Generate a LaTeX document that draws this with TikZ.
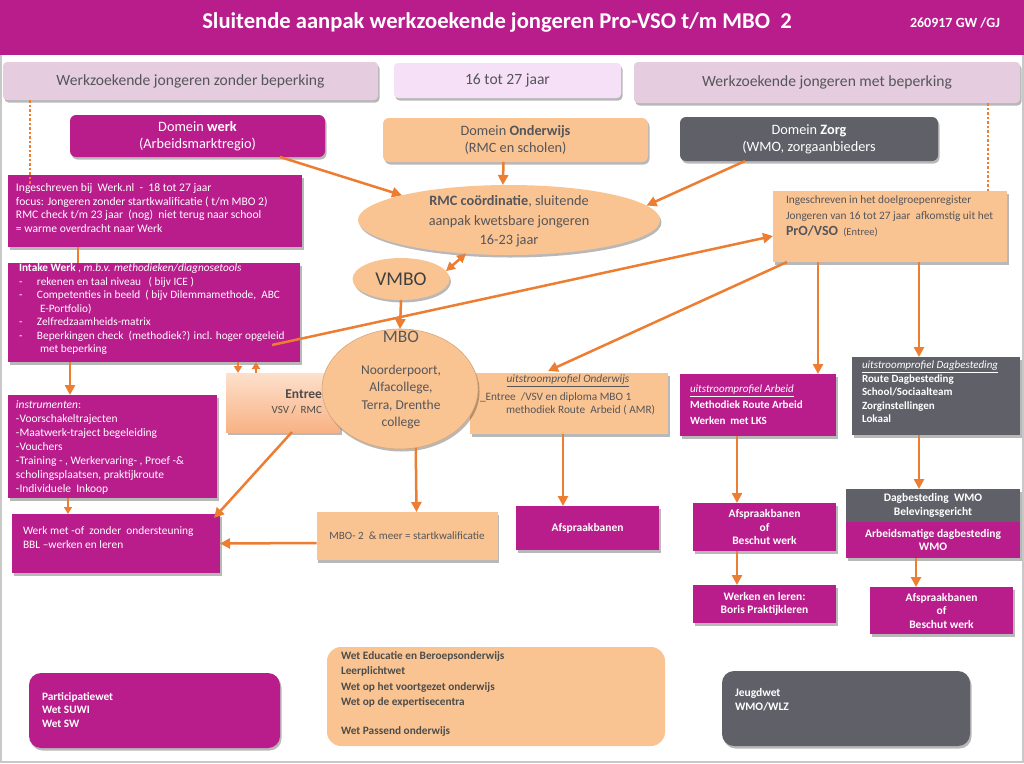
\documentclass[tikz,border=0pt]{standalone}
\usepackage{fontspec}
\setmainfont{Carlito}
\usetikzlibrary{shapes.geometric,arrows.meta,shadows,calc}
\definecolor{mag}{RGB}{185,29,140}
\definecolor{peach}{RGB}{250,196,146}
\definecolor{dgrey}{RGB}{95,96,104}
\definecolor{orng}{RGB}{237,125,49}
\definecolor{banner}{RGB}{229,204,223}
\definecolor{bannerl}{RGB}{246,224,247}
\definecolor{txtg}{RGB}{85,85,90}
\definecolor{framec}{RGB}{200,200,200}
\definecolor{entreetop}{RGB}{253,224,204}
\definecolor{entreebot}{RGB}{248,178,132}
\tikzset{
  shd/.style={drop shadow={shadow xshift=1.5pt,shadow yshift=-2.5pt,opacity=0.28,fill=black}},
  magbox/.style={fill=mag,text=white,shd},
  peachbox/.style={fill=peach,text=txtg,shd},
  greybox/.style={fill=dgrey,text=white,shd},
  bannerbox/.style={fill=banner,text=txtg,rounded corners=4pt,shd,font=\fontsize{15.6}{18}\selectfont},
  arr/.style={draw=orng,line width=2.5pt,-{Triangle[length=10pt,width=10pt]}},
  darr/.style={draw=orng,line width=2.5pt,{Triangle[length=9pt,width=9pt]}-{Triangle[length=9pt,width=9pt]}},
  sarr/.style={draw=orng,line width=2.5pt,-{Triangle[length=7pt,width=8pt]}},
  plainline/.style={draw=orng,line width=2.5pt},
  dotline/.style={draw=orng,line width=2.5pt,dash pattern=on 2.5pt off 2pt},
  ltxt/.style={anchor=north west,align=left},
  fsb/.style={font=\fontsize{11.5}{13.5}\selectfont\bfseries},
  fdom/.style={font=\fontsize{14.3}{17}\selectfont},
}
\begin{document}
\begin{tikzpicture}[x=1pt,y=-1pt,every node/.style={inner sep=0pt,outer sep=0pt}]
\useasboundingbox (0,0) rectangle (1024,763);
\fill[white] (0,0) rectangle (1024,763);
\node[fill=mag,minimum width=1024pt,minimum height=55pt] (titlebar) at (512,27.5) {};
\draw[framec,line width=2pt] (1,55) -- (1,762) -- (1023,762) -- (1023,55);
\node[text=white,font=\fontsize{22.6}{26}\selectfont\bfseries] (title) at (497,22) {Sluitende aanpak werkzoekende jongeren Pro-VSO t/m MBO\ \ 2};
\node[text=white,font=\fontsize{14}{16}\selectfont\bfseries] (date) at (955,23) {260917 GW /GJ};

% banners
\node[bannerbox,minimum width=375pt,minimum height=38pt] (b1) at (190.5,81) {Werkzoekende jongeren zonder beperking};
\node[bannerbox,fill=bannerl,minimum width=227pt,minimum height=35pt] (b2) at (507.5,80.5) {16 tot 27 jaar};
\node[bannerbox,minimum width=386pt,minimum height=41pt] (b3) at (827,82.5) {Werkzoekende jongeren met beperking};

% domains
\node[magbox,fdom,rounded corners=6pt,minimum width=255pt,minimum height=42pt,align=center] (dwerk) at (197.5,136) {Domein \textbf{werk}\\(Arbeidsmarktregio)};
\node[peachbox,fdom,rounded corners=6pt,minimum width=265pt,minimum height=44pt,align=center] (donder) at (515.5,140) {Domein \textbf{Onderwijs}\\(RMC en scholen)};
\node[greybox,fdom,rounded corners=6pt,minimum width=258pt,minimum height=44pt,align=center] (dzorg) at (809,139) {Domein \textbf{Zorg}\\(WMO, zorgaanbieders};

% left column
\node[magbox,minimum width=294pt,minimum height=72pt] (ing1) at (155,211) {};
\node[ltxt,text=white,font=\fontsize{11.6}{13.7}\selectfont] (ing1text) at (16,183.5) {Ingeschreven bij\ \ Werk.nl\ \ -\ \ 18 tot 27 jaar\\focus: Jongeren zonder startkwalificatie ( t/m MBO 2)\\RMC check t/m 23 jaar\ \ (nog)\ \ niet terug naar school\\= warme overdracht naar Werk};

\node[magbox,minimum width=292pt,minimum height=99pt] (intake) at (154,312.5) {};
\node[ltxt,text=white,font=\fontsize{11.3}{13.5}\selectfont] (intaketext) at (19,264) {\textbf{Intake Werk} , \textit{m.b.v. methodieken/diagnosetools}\\
\makebox[18pt][l]{-}rekenen en taal niveau\ \ \ ( bijv ICE )\\
\makebox[18pt][l]{-}Competenties in beeld\ \ ( bijv Dilemmamethode,\ \ ABC\\
\hspace*{21pt}E-Portfolio)\\
\makebox[18pt][l]{-}Zelfredzaamheids-matrix\\
\makebox[18pt][l]{-}Beperkingen check\ \ (methodiek?) incl. hoger opgeleid\\
\hspace*{21pt}met beperking};

\node[magbox,minimum width=209pt,minimum height=103pt] (instr) at (112.5,446.5) {};
\node[ltxt,text=white,font=\fontsize{11.5}{14}\selectfont] (instrtext) at (16,400.5) {\textit{instrumenten}:\\-Voorschakeltrajecten\\-Maatwerk-traject begeleiding\\-Vouchers\\-Training - , Werkervaring- , Proef -\&\\scholingsplaatsen, praktijkroute\\-Individuele\ \ Inkoop};

\node[magbox,minimum width=208pt,minimum height=59pt] (werk) at (116,543.5) {};
\node[ltxt,text=white,font=\fontsize{11.4}{14}\selectfont] (werktext) at (23,526.5) {Werk met -of\ \ zonder\ \ ondersteuning\\BBL –werken en leren};

% RMC, VMBO
\node[ellipse,fill=peach,shd,minimum width=302pt,minimum height=70pt] (rmc) at (509,220) {};
\node[text=txtg,align=center,font=\fontsize{14.3}{19.5}\selectfont] (rmctext) at (509,221.5) {\textbf{RMC coördinatie}, sluitende\\aanpak kwetsbare jongeren\\16-23 jaar};
\node[ellipse,fill=peach,shd,minimum width=97pt,minimum height=42pt,text=black!75,font=\fontsize{19.5}{22}\selectfont] (vmbo) at (401,279) {VMBO};

% right top box
\node[peachbox,minimum width=234pt,minimum height=71pt] (ing2) at (890,226.5) {};
\node[ltxt,text=txtg,font=\fontsize{11.3}{16}\selectfont] (ing2text) at (786,195.5) {Ingeschreven in het doelgroepenregister\\Jongeren van 16 tot 27 jaar\ \ afkomstig uit het\\{\fontsize{14}{16}\selectfont\bfseries PrO/VSO}\ \ {\fontsize{10.5}{16}\selectfont(Entree)}};

% MBO row
\node[shd,top color=entreetop,bottom color=entreebot,minimum width=114pt,minimum height=59pt] (entree) at (283,402.5) {};
\node[anchor=north east,align=right,text=black!70,font=\fontsize{11}{15}\selectfont] (entreetext) at (322,389.5) {{\fontsize{13.5}{15}\selectfont\bfseries Entree}\\VSV /\ \ RMC};
\node[peachbox,minimum width=198pt,minimum height=61pt] (onderw) at (569,403.5) {};
\node[text=txtg,font=\fontsize{11.3}{13}\selectfont] (ondtitle) at (568,381) {\underline{\textit{uitstroomprofiel Onderwijs}}};
\node[ltxt,text=txtg,font=\fontsize{11.3}{13}\selectfont] (ondtext) at (480,393) {\_Entree\ \ /VSV en diploma MBO 1\\\hspace*{26pt}methodiek Route\ \ Arbeid ( AMR)};
\node[ellipse,fill=peach,draw=peach!85!black,line width=0.6pt,shd,minimum width=156pt,minimum height=120pt] (mbo) at (400,389) {};
\node[text=black!65,font=\fontsize{17.5}{20}\selectfont] (mbolabel) at (401,337) {MBO};
\node[text=txtg,align=center,font=\fontsize{13.5}{17.3}\selectfont] (mbotext) at (401,397) {Noorderpoort,\\Alfacollege,\\Terra, Drenthe\\college};

\node[magbox,minimum width=156pt,minimum height=62pt] (arbeid) at (758,405) {};
\node[ltxt,text=white,font=\fontsize{11}{16}\selectfont\bfseries] (arbeidtext) at (690,385) {\underline{\textit{\mdseries uitstroomprofiel Arbeid}}\\Methodiek Route Arbeid\\Werken\ \ met LKS};
\node[greybox,minimum width=168pt,minimum height=78pt] (dagb) at (936,396) {};
\node[ltxt,text=white,font=\fontsize{11}{13.5}\selectfont\bfseries] (dagbtext) at (862,361) {\underline{\textit{\mdseries uitstroomprofiel Dagbesteding}}\\Route Dagbesteding\\School/Sociaalteam\\Zorginstellingen\\Lokaal};

% lower boxes
\node[peachbox,minimum width=181pt,minimum height=48pt,font=\fontsize{11.1}{13}\selectfont] (mbo2) at (407,536) {MBO- 2\ \ \& meer = startkwalificatie};
\node[magbox,fsb,minimum width=143pt,minimum height=44pt] (afsp1) at (587.5,528) {Afspraakbanen};
\node[magbox,fsb,minimum width=143pt,minimum height=48pt,align=center] (afsp2) at (764.5,527) {Afspraakbanen\\of\\Beschut werk};
\node[magbox,fsb,minimum width=143pt,minimum height=38pt,align=center] (werken) at (764.5,604) {Werken en leren:\\Boris Praktijkleren};
\node[greybox,fsb,minimum width=174pt,minimum height=33pt,align=center] (dagwmo) at (933,505.5) {Dagbesteding\ \ WMO\\Belevingsgericht};
\node[magbox,fsb,minimum width=174pt,minimum height=36pt,align=center] (arbm) at (933,540) {Arbeidsmatige dagbesteding\\WMO};
\node[magbox,fsb,minimum width=143pt,minimum height=47pt,align=center] (afsp3) at (941.5,610.5) {Afspraakbanen\\of\\Beschut werk};

% bottom legend
\node[magbox,rounded corners=12pt,minimum width=251pt,minimum height=75pt] (part) at (154.5,710.5) {};
\node[ltxt,text=white,font=\fontsize{11.3}{13.5}\selectfont\bfseries] (parttext) at (42,692.5) {Participatiewet\\Wet SUWI\\Wet SW};
\node[fill=peach,text=txtg,rounded corners=14pt,minimum width=338pt,minimum height=99pt] (wet) at (496,696.5) {};
\node[ltxt,text=black!70,font=\fontsize{11.3}{15.5}\selectfont\bfseries] (wettext) at (341,651.5) {Wet Educatie en Beroepsonderwijs\\Leerplichtwet\\Wet op het voortgezet onderwijs\\Wet op de expertisecentra\\[13.5pt]Wet Passend onderwijs};
\node[greybox,rounded corners=12pt,minimum width=248pt,minimum height=75pt] (jeugd) at (846,708.5) {};
\node[ltxt,text=white,font=\fontsize{11.5}{14}\selectfont\bfseries] (jeugdtext) at (735,688.5) {Jeugdwet\\WMO/WLZ};

% connectors
\draw[dotline] ($(b1.south west)+(27,0)$) -- ($(ing1.north west)+(22,10)$);
\draw[dotline] ($(b3.south west)+(354,0)$) -- ($(ing2.north east)+(-19,0)$);
\draw[arr] ($(dwerk.south west)+(210,0)$) -- (rmc.167);
\draw[arr] ($(donder.south)+(-12,0)$) -- (rmc.100);
\draw[arr] ($(dzorg.south)+(-64,0)$) -- (rmc.6);
\draw[darr] (rmc.218) -- (vmbo.10);
\draw[arr] (vmbo.south) -- (mbo.north);
\draw[arr] ($(intake.south east)+(-28,-17)$) -- ($(ing2.west)+(0,9.5)$);
\draw[arr] ($(ing2.south west)+(14,0)$) -- ($(onderw.north)+(-21,-2)$);
\draw[arr] ($(ing2.south west)+(45,0)$) -- ($(arbeid.north)+(60,0)$);
\draw[arr] ($(ing2.south west)+(146,0)$) -- ($(dagb.north)+(-17,0)$);
\draw[plainline] ($(ing1.south west)+(70,0)$) -- ($(intake.north west)+(70,0)$);
\draw[arr] ($(intake.south west)+(62,0)$) -- ($(instr.north west)+(62,0)$);
\draw[sarr] ($(intake.south west)+(230,0)$) -- ($(entree.north west)+(12,0)$);
\draw[sarr] ($(entree.north west)+(30,0)$) -- ($(intake.south west)+(248,0)$);
\draw[sarr] ($(instr.south west)+(60,0)$) -- ($(werk.north west)+(56,0)$);
\draw[arr] ($(entree.south west)+(66,0)$) -- ($(werk.north east)+(-6,4)$);
\draw[arr] ($(mbo2.west)+(0,7)$) -- (werk.east);
\draw[arr] (mbo.285) -- ($(mbo2.north)+(9.5,0)$);
\draw[arr] ($(onderw.south)+(-6,0)$) -- ($(afsp1.north)+(-24.5,0)$);
\draw[arr] ($(arbeid.south)+(-21,0)$) -- ($(afsp2.north)+(-27.5,0)$);
\draw[arr] ($(afsp2.south)+(-27.5,0)$) -- ($(werken.north)+(-27.5,0)$);
\draw[arr] ($(dagb.south)+(-17,0)$) -- ($(dagwmo.north)+(-14,0)$);
\draw[arr] ($(arbm.south)+(-17,0)$) -- ($(afsp3.north)+(-25.5,0)$);
\end{tikzpicture}
\end{document}
